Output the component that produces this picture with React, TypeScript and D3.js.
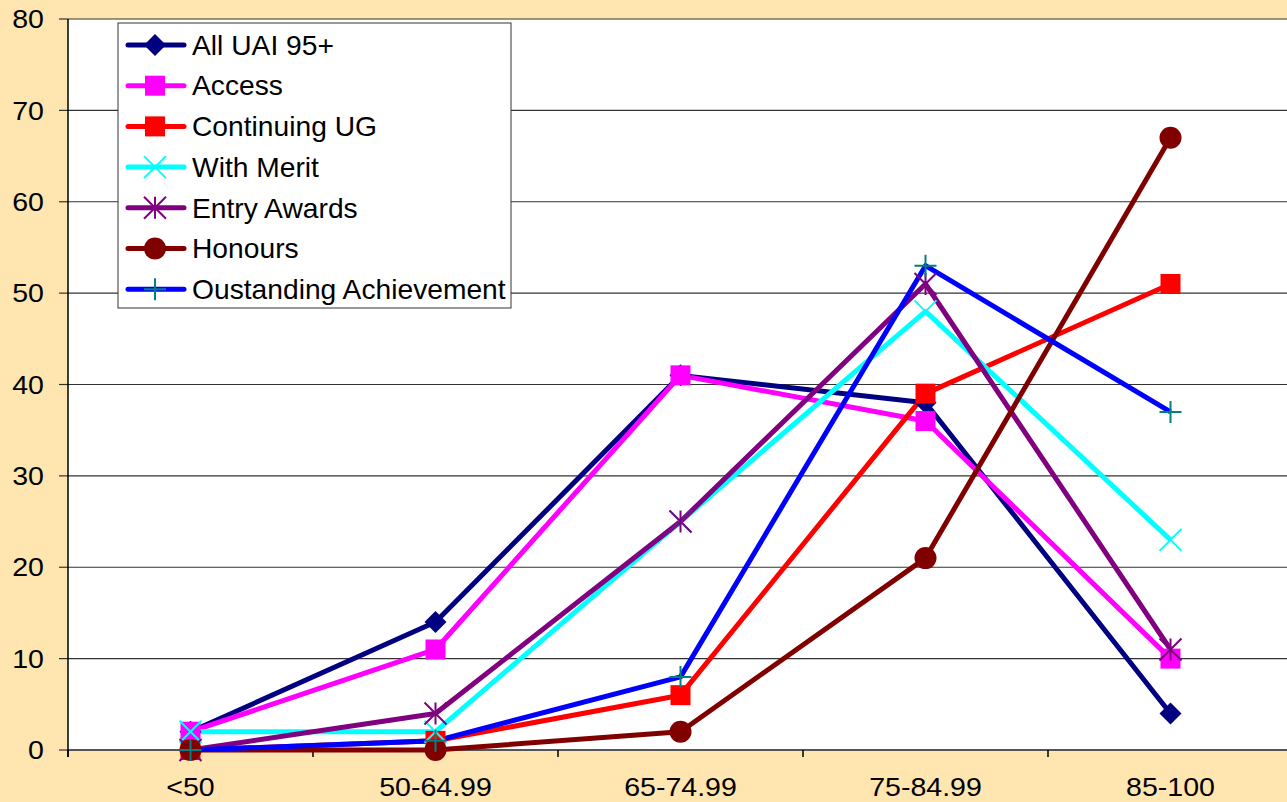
import React from "react";
import * as d3 from "d3";

const categories = ["<50", "50-64.99", "65-74.99", "75-84.99", "85-100"];
const seriesNames = [
  "All UAI 95+",
  "Access",
  "Continuing UG",
  "With Merit",
  "Entry Awards",
  "Honours",
  "Oustanding Achievement",
];
const allUai = [2, 14, 41, 38, 4];
const access = [2, 11, 41, 36, 10];
const continuingUG = [0, 1, 6, 39, 51];
const withMerit = [2, 2, 25, 48, 23];
const entryAwards = [0, 4, 25, 51, 11];
const honours = [0, 0, 2, 21, 67];
const outstanding = [0, 1, 8, 53, 37];
const yTicks = [0, 10, 20, 30, 40, 50, 60, 70, 80];

const seriesValues = [allUai, access, continuingUG, withMerit, entryAwards, honours, outstanding];
const lineColors = ["#000080", "#FF00FF", "#FF0000", "#00FFFF", "#800080", "#800000", "#0000FF"];
const markerColors = ["#000080", "#FF00FF", "#FF0000", "#00FFFF", "#800080", "#800000", "#008080"];
const markerTypes = ["diamond", "square", "square", "x", "star", "circle", "plus"];

const W = 1287;
const H = 802;
const left = 68;
const right = 1293;
const top = 19;
const bottom = 750;
const FONT = "'Liberation Sans', Arial, sans-serif";

function Marker({ type, x, y, color }: { type: string; x: number; y: number; color: string }) {
  const s = 11;
  switch (type) {
    case "diamond":
      return <path d={`M${x},${y - s}L${x + s},${y}L${x},${y + s}L${x - s},${y}Z`} fill={color} />;
    case "square":
      return <rect x={x - 10} y={y - 10} width={20} height={20} fill={color} />;
    case "circle":
      return <circle cx={x} cy={y} r={11} fill={color} />;
    case "x":
      return (
        <path d={`M${x - s},${y - s}L${x + s},${y + s}M${x - s},${y + s}L${x + s},${y - s}`} stroke={color} strokeWidth={2} />
      );
    case "star":
      return (
        <path
          d={`M${x - s},${y - s}L${x + s},${y + s}M${x - s},${y + s}L${x + s},${y - s}M${x},${y - s}L${x},${y + s}`}
          stroke={color}
          strokeWidth={2}
        />
      );
    case "plus":
      return <path d={`M${x - s},${y}L${x + s},${y}M${x},${y - s}L${x},${y + s}`} stroke={color} strokeWidth={2} />;
  }
  return null;
}

function SText({
  x,
  y,
  sx,
  size,
  anchor,
  dy,
  children,
}: {
  x: number;
  y: number;
  sx: number;
  size: number;
  anchor?: string;
  dy?: string;
  children: React.ReactNode;
}) {
  return (
    <text
      transform={`translate(${x},${y}) scale(${sx},1)`}
      dy={dy}
      textAnchor={anchor || "start"}
      fontSize={size}
      fill="#000"
    >
      {children}
    </text>
  );
}

export default function App() {
  const x = d3.scaleBand<string>().domain(categories).range([left, right]);
  const y = d3.scaleLinear().domain([0, 80]).range([bottom, top]);
  const cx = (c: string) => (x(c) as number) + x.bandwidth() / 2;
  const line = d3
    .line<number>()
    .x((_, i) => cx(categories[i]))
    .y((d) => y(d));

  const legX = 118;
  const legY = 23;
  const legW = 393;
  const legH = 285;
  const rowH = 40.7;

  return (
    <svg width={W} height={H} style={{ position: "fixed", left: 0, top: 0 }} fontFamily={FONT}>
      <rect x={0} y={0} width={W} height={H} fill="#FFE5AF" />
      <rect x={left} y={top} width={right - left} height={bottom - top} fill="#FFFFFF" />
      {yTicks.map((t) => (
        <g key={t}>
          {t > 0 && <line x1={left} x2={right} y1={y(t)} y2={y(t)} stroke="#333" strokeWidth={1.2} />}
          <line x1={left - 9} x2={left} y1={y(t)} y2={y(t)} stroke="#333" strokeWidth={1.2} />
          <SText x={44} y={y(t)} dy="0.36em" anchor="end" size={25.5} sx={1.12}>
            {t}
          </SText>
        </g>
      ))}
      <line x1={left} x2={right} y1={bottom} y2={bottom} stroke="#555" strokeWidth={2} />
      <line x1={left} x2={left} y1={top} y2={bottom + 7} stroke="#000" strokeWidth={1.5} />
      {categories.map((c) => (
        <g key={c}>
          <line x1={x(c) as number} x2={x(c) as number} y1={bottom} y2={bottom + 7} stroke="#000" strokeWidth={1.5} />
          <SText x={cx(c)} y={796} anchor="middle" size={25.5} sx={1.12}>
            {c}
          </SText>
        </g>
      ))}
      {seriesValues.map((vals, si) => (
        <path key={si} d={line(vals) as string} fill="none" stroke={lineColors[si]} strokeWidth={5} strokeLinejoin="round" />
      ))}
      {seriesValues.map((vals, si) =>
        vals.map((v, i) => (
          <Marker key={`${si}-${i}`} type={markerTypes[si]} x={cx(categories[i])} y={y(v)} color={markerColors[si]} />
        ))
      )}
      <rect x={legX} y={legY} width={legW} height={legH} fill="#FFFFFF" stroke="#333" strokeWidth={1} />
      {seriesNames.map((n, i) => {
        const ly = legY + 22 + i * rowH;
        return (
          <g key={n}>
            <line x1={128} x2={184} y1={ly} y2={ly} stroke={lineColors[i]} strokeWidth={5} strokeLinecap="round" />
            <Marker type={markerTypes[i]} x={155} y={ly} color={markerColors[i]} />
            <SText x={192} y={ly} dy="0.36em" size={27} sx={1.045}>
              {n}
            </SText>
          </g>
        );
      })}
    </svg>
  );
}
